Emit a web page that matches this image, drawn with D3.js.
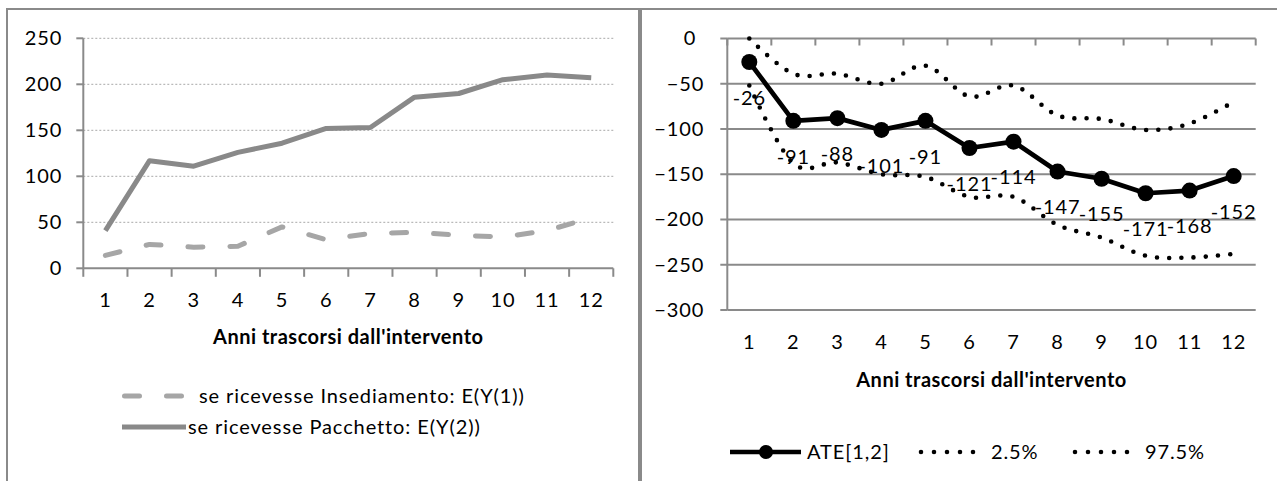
<!DOCTYPE html>
<html>
<head>
<meta charset="utf-8">
<script src="https://cdn.jsdelivr.net/npm/d3@7"></script>
<style>
  html, body { margin: 0; padding: 0; background: #fff; }
  svg { display: block; font-family: Lato, "Open Sans", sans-serif; }
  svg text { letter-spacing: 0.9px; }
  svg text.title { letter-spacing: 0.5px; }
</style>
</head>
<body>
<svg id="chart" width="1277" height="481"></svg>
<script>
// Years since the intervention (shared category axis)
const years = [1, 2, 3, 4, 5, 6, 7, 8, 9, 10, 11, 12];

// Left panel: expected outcome under each treatment
const insediamento = [14, 26, 23, 24, 45, 31, 38, 39, 36, 34, 41, 55];
const pacchetto = [41, 117, 111, 126, 136, 152, 153, 186, 190, 205, 210, 207];

// Right panel: average treatment effect with its interval bounds
const ate = [-26, -91, -88, -101, -91, -121, -114, -147, -155, -171, -168, -152];
const ci025 = [-52, -138, -137, -150, -153, -175, -175, -206, -220, -240, -242, -238];
const ci975 = [0, -39, -39, -50, -30, -64, -52, -85, -89, -101, -94, -70];

const leftTicks = [0, 50, 100, 150, 200, 250];
const rightTicks = [0, -50, -100, -150, -200, -250, -300];

const xTitle = "Anni trascorsi dall'intervento";
const leftLegend = ["se ricevesse Insediamento: E(Y(1))", "se ricevesse Pacchetto: E(Y(2))"];
const rightLegend = ["ATE[1,2]", "2.5%", "97.5%"];

const FS = 20;
const AXIS = "#8a8a8a";
const svg = d3.select("#chart");

// Panel frames
svg.append("rect").attr("x", 7).attr("y", 9).attr("width", 632).attr("height", 520)
  .attr("fill", "none").attr("stroke", AXIS).attr("stroke-width", 2);
svg.append("rect").attr("x", 641).attr("y", 9).attr("width", 700).attr("height", 520)
  .attr("fill", "none").attr("stroke", AXIS).attr("stroke-width", 2);

function styleAxisText(g) {
  g.select(".domain").remove();
  g.selectAll(".tick line").remove();
  g.selectAll("text").attr("font-size", FS).attr("fill", "#000")
    .attr("font-family", "Lato, 'Open Sans', sans-serif");
}

// ---------------- Left panel ----------------
const xL = d3.scaleBand().domain(years).range([83.3, 613.3]);
const yL = d3.scaleLinear().domain([0, 250]).range([268.3, 38.3]);
const L = svg.append("g");

// dotted horizontal gridlines
L.selectAll("line.grid").data(leftTicks.filter(d => d > 0)).join("line")
  .attr("x1", xL.range()[0]).attr("x2", xL.range()[1])
  .attr("y1", d => yL(d)).attr("y2", d => yL(d))
  .attr("stroke", "#a8a8a8").attr("stroke-width", 1).attr("stroke-dasharray", "2,2");

// y axis
L.append("g").attr("transform", `translate(${xL.range()[0]},0)`)
  .call(d3.axisLeft(yL).tickValues(leftTicks).tickSize(0).tickPadding(21))
  .call(styleAxisText);
L.append("line").attr("x1", xL.range()[0]).attr("x2", xL.range()[0])
  .attr("y1", yL(250)).attr("y2", yL(0)).attr("stroke", AXIS).attr("stroke-width", 2);
L.selectAll("line.ytick").data(leftTicks).join("line")
  .attr("x1", xL.range()[0] - 7).attr("x2", xL.range()[0])
  .attr("y1", d => yL(d)).attr("y2", d => yL(d)).attr("stroke", AXIS).attr("stroke-width", 2);

// x axis
L.append("line").attr("x1", xL.range()[0]).attr("x2", xL.range()[1])
  .attr("y1", yL(0)).attr("y2", yL(0)).attr("stroke", AXIS).attr("stroke-width", 2);
const bL = years.map(d => xL(d)).concat([xL.range()[1]]);
L.selectAll("line.xtick").data(bL).join("line")
  .attr("x1", d => d).attr("x2", d => d).attr("y1", yL(0)).attr("y2", yL(0) + 8.5)
  .attr("stroke", AXIS).attr("stroke-width", 2);
L.append("g").attr("transform", `translate(0,${yL(0)})`)
  .call(d3.axisBottom(xL).tickSize(0).tickPadding(25))
  .call(styleAxisText);
L.append("text").attr("class", "title")
  .attr("x", (xL.range()[0] + xL.range()[1]) / 2).attr("y", 337).attr("dy", "0.36em")
  .attr("text-anchor", "middle").attr("font-size", FS).attr("font-weight", "bold").text(xTitle);

// series
const lineL = d3.line().x((d, i) => xL(years[i]) + xL.bandwidth() / 2).y(d => yL(d));
L.append("path").datum(insediamento).attr("d", lineL).attr("fill", "none")
  .attr("stroke", "#a6a6a6").attr("stroke-width", 5).attr("stroke-linecap", "round")
  .attr("stroke-linejoin", "round").attr("stroke-dasharray", "15,27");
L.append("path").datum(pacchetto).attr("d", lineL).attr("fill", "none")
  .attr("stroke", "#898989").attr("stroke-width", 5).attr("stroke-linejoin", "round");

// legend
L.append("line").attr("x1", 124.5).attr("x2", 184).attr("y1", 396).attr("y2", 396)
  .attr("stroke", "#a6a6a6").attr("stroke-width", 5).attr("stroke-linecap", "round")
  .attr("stroke-dasharray", "15,27");
L.append("line").attr("x1", 122).attr("x2", 186).attr("y1", 427).attr("y2", 427)
  .attr("stroke", "#898989").attr("stroke-width", 5);
L.append("text").attr("x", 199).attr("y", 396).attr("dy", "0.36em").attr("font-size", FS).text(leftLegend[0]);
L.append("text").attr("x", 188).attr("y", 427).attr("dy", "0.36em").attr("font-size", FS).text(leftLegend[1]);

// ---------------- Right panel ----------------
const xR = d3.scaleBand().domain(years).range([727.3, 1255.7]);
const yR = d3.scaleLinear().domain([-300, 0]).range([310, 38.5]);
const R = svg.append("g");

// solid gridlines
R.selectAll("line.grid").data(rightTicks.filter(d => d < 0)).join("line")
  .attr("x1", xR.range()[0]).attr("x2", xR.range()[1])
  .attr("y1", d => yR(d)).attr("y2", d => yR(d))
  .attr("stroke", AXIS).attr("stroke-width", 2);

// y axis
R.append("g").attr("transform", `translate(${xR.range()[0]},0)`)
  .call(d3.axisLeft(yR).tickValues(rightTicks).tickSize(0).tickPadding(23))
  .call(styleAxisText)
  .call(g => g.selectAll(".tick").filter(d => d === 0).select("text").attr("dx", -8));
R.append("line").attr("x1", xR.range()[0]).attr("x2", xR.range()[0])
  .attr("y1", yR(0)).attr("y2", yR(-300)).attr("stroke", AXIS).attr("stroke-width", 2);
R.selectAll("line.ytick").data(rightTicks).join("line")
  .attr("x1", xR.range()[0] - 7).attr("x2", xR.range()[0])
  .attr("y1", d => yR(d)).attr("y2", d => yR(d)).attr("stroke", AXIS).attr("stroke-width", 2);

// category axis sits on the zero line, labels at the bottom
R.append("line").attr("x1", xR.range()[0]).attr("x2", xR.range()[1])
  .attr("y1", yR(0)).attr("y2", yR(0)).attr("stroke", AXIS).attr("stroke-width", 2);
const bR = years.map(d => xR(d)).concat([xR.range()[1]]);
R.selectAll("line.xtick").data(bR).join("line")
  .attr("x1", d => d).attr("x2", d => d).attr("y1", yR(0)).attr("y2", yR(0) + 7)
  .attr("stroke", AXIS).attr("stroke-width", 2);
R.append("g").attr("transform", `translate(0,${yR(-300)})`)
  .call(d3.axisBottom(xR).tickSize(0).tickPadding(25))
  .call(styleAxisText);
R.append("text").attr("class", "title")
  .attr("x", (xR.range()[0] + xR.range()[1]) / 2).attr("y", 380).attr("dy", "0.36em")
  .attr("text-anchor", "middle").attr("font-size", FS).attr("font-weight", "bold").text(xTitle);

// interval bounds (smoothed, round dots)
const cx = i => xR(years[i]) + xR.bandwidth() / 2;
const smooth = d3.line().x((d, i) => cx(i)).y(d => yR(d)).curve(d3.curveCardinal.tension(0));
[ci025, ci975].forEach(s => {
  R.append("path").datum(s).attr("d", smooth).attr("fill", "none")
    .attr("stroke", "#000").attr("stroke-width", 4.6).attr("stroke-linecap", "round")
    .attr("stroke-dasharray", "0,12.2");
});

// ATE line with markers and value labels
const straight = d3.line().x((d, i) => cx(i)).y(d => yR(d));
R.append("path").datum(ate).attr("d", straight).attr("fill", "none")
  .attr("stroke", "#000").attr("stroke-width", 4.7).attr("stroke-linejoin", "round");
R.selectAll("circle.pt").data(ate).join("circle")
  .attr("cx", (d, i) => cx(i)).attr("cy", d => yR(d)).attr("r", 8).attr("fill", "#000");
R.selectAll("text.lbl").data(ate).join("text")
  .attr("x", (d, i) => cx(i)).attr("y", d => yR(d) + 35.5).attr("dy", "0.36em")
  .attr("text-anchor", "middle").attr("font-size", FS).text(d => d);

// legend
const ly = 452;
R.append("line").attr("x1", 730).attr("x2", 801).attr("y1", ly).attr("y2", ly)
  .attr("stroke", "#000").attr("stroke-width", 4.7);
R.append("circle").attr("cx", 766).attr("cy", ly).attr("r", 7).attr("fill", "#000");
R.append("text").attr("x", 807).attr("y", ly).attr("dy", "0.36em").attr("font-size", FS).text(rightLegend[0]);
[[921, 986, 991, rightLegend[1]], [1075, 1140, 1145, rightLegend[2]]].forEach(([a, b, t, s]) => {
  R.append("line").attr("x1", a).attr("x2", b).attr("y1", ly).attr("y2", ly)
    .attr("stroke", "#000").attr("stroke-width", 4.6).attr("stroke-linecap", "round")
    .attr("stroke-dasharray", "0,13");
  R.append("text").attr("x", t).attr("y", ly).attr("dy", "0.36em").attr("font-size", FS).text(s);
});
</script>
</body>
</html>
